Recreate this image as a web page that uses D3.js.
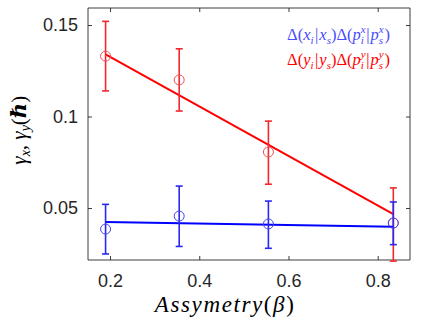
<!DOCTYPE html>
<html>
<head>
<meta charset="utf-8">
<script src="https://cdn.jsdelivr.net/npm/d3@7"></script>
<style>
  body { margin: 0; background: #fff; }
  svg { display: block; }
</style>
</head>
<body>
<div id="vis"></div>
<script>
// data
var asym = [0.19, 0.355, 0.555, 0.835]
var gammaX = [0.0385, 0.0456, 0.0413, 0.0418]
var gammaXLo = [0.0249, 0.029, 0.028, 0.030]
var gammaXHi = [0.052, 0.062, 0.0538, 0.0533]
var gammaY = [0.133, 0.120, 0.0806, 0.0418]
var gammaYLo = [0.114, 0.103, 0.063, 0.021]
var gammaYHi = [0.152, 0.137, 0.0975, 0.061]
// linear fits, value at first and last asymmetry
var fitX = [0.0424, 0.0398]
var fitY = [0.134, 0.0467]
var xTicks = [0.2, 0.4, 0.6, 0.8]
var yTicks = [0.05, 0.1, 0.15]

var width = 437, height = 326
var margin = {top: 8, right: 27, bottom: 66, left: 88}
var w = width - margin.left - margin.right,
    h = height - margin.top - margin.bottom

var x = d3.scaleLinear().domain([0.1506, 0.8724]).range([0, w])
var y = d3.scaleLinear().domain([0.0216, 0.1593]).range([h, 0])

var svg = d3.select("#vis").append("svg")
    .attr("width", width)
    .attr("height", height)
  .append("g")
    .attr("transform", "translate(" + margin.left + "," + margin.top + ")")

var axisColor = "#262626"
var tickFont = "'Liberation Sans', Arial, sans-serif"

// axes, MATLAB style: ticks inside, box on
var gx = svg.append("g").attr("transform", "translate(0," + h + ")")
    .call(d3.axisBottom(x).tickValues(xTicks).tickSize(-4).tickPadding(14).tickFormat(d3.format("")))
var gxt = svg.append("g")
    .call(d3.axisTop(x).tickValues(xTicks).tickSize(-4).tickFormat(""))
var gy = svg.append("g")
    .call(d3.axisLeft(y).tickValues(yTicks).tickSize(-4).tickPadding(10).tickFormat(d3.format("")))
var gyr = svg.append("g").attr("transform", "translate(" + w + ",0)")
    .call(d3.axisRight(y).tickValues(yTicks).tickSize(-4).tickFormat(""))

;[gx, gxt, gy, gyr].forEach(function(g) {
  g.selectAll("path, line").attr("stroke", axisColor).attr("stroke-width", 0.9)
  g.selectAll("text").attr("fill", axisColor)
    .style("font-family", tickFont).style("font-size", "18px")
})
gx.selectAll("path").attr("d", "M0,0H" + w)
gxt.selectAll("path").attr("d", "M0,0H" + w)
gy.selectAll("path").attr("d", "M0,0V" + h)
gyr.selectAll("path").attr("d", "M0,0V" + h)

var series = [
  {val: gammaY, lo: gammaYLo, hi: gammaYHi, fit: fitY, line: "#ff0000", bar: "#f0282d", dot: "#f0505a"},
  {val: gammaX, lo: gammaXLo, hi: gammaXHi, fit: fitX, line: "#0000ff", bar: "#2828f0", dot: "#4646f0"}
]

series.forEach(function(s) {
  var g = svg.append("g")
  // fit line
  g.append("line")
      .attr("x1", x(asym[0])).attr("x2", x(asym[asym.length - 1]))
      .attr("y1", y(s.fit[0])).attr("y2", y(s.fit[1]))
      .attr("stroke", s.line).attr("stroke-width", 2)

  asym.forEach(function(a, i) {
    var cx = x(a)
    g.append("line")
        .attr("x1", cx).attr("x2", cx)
        .attr("y1", y(s.lo[i])).attr("y2", y(s.hi[i]))
        .attr("stroke", s.bar).attr("stroke-width", 1.6)
    ;[s.lo[i], s.hi[i]].forEach(function(v) {
      g.append("line")
          .attr("x1", cx - 3.5).attr("x2", cx + 3.5)
          .attr("y1", y(v)).attr("y2", y(v))
          .attr("stroke", s.bar).attr("stroke-width", 1.6)
    })
    g.append("circle")
        .attr("cx", cx).attr("cy", y(s.val[i])).attr("r", 5)
        .attr("fill", "none").attr("stroke", s.dot).attr("stroke-width", 1)
  })
})

// legend texts (LaTeX-ish)
var mathFont = "'Liberation Serif', 'DejaVu Serif', serif"

function mathLine(g, parts, color) {
  var t = g.append("text")
      .attr("fill", color)
      .attr("text-anchor", "end")
      .style("font-family", mathFont)
      .style("font-size", "16.5px")
  parts.forEach(function(p) {
    var ts = t.append("tspan").text(p.t)
    if (p.it) ts.style("font-style", "italic")
    if (p.sz) ts.style("font-size", p.sz + "px")
    if (p.dy) ts.attr("dy", p.dy)
    if (p.dx) ts.attr("dx", p.dx)
  })
  return t
}

function deltaParts(a) {
  // Δ(a_i|a_s)Δ(p_i^a|p_s^a)
  return [
    {t: "Δ("},
    {t: a, it: true},
    {t: "i", it: true, sz: 11, dy: 4},
    {t: "|", dy: -4, dx: 1.5},
    {t: a, it: true, dx: 1},
    {t: "s", it: true, sz: 11, dy: 4},
    {t: ")Δ(", dy: -4},
    {t: "p", it: true},
    {t: a, it: true, sz: 11, dy: -7},
    {t: "i", it: true, sz: 11, dy: 11, dx: -5},
    {t: "|", dy: -4, dx: 2.5},
    {t: "p", it: true, dx: 1},
    {t: a, it: true, sz: 11, dy: -7},
    {t: "s", it: true, sz: 11, dy: 11, dx: -5},
    {t: ")", dy: -4, dx: 1.5}
  ]
}

var leg = svg.append("g")
mathLine(leg, deltaParts("x"), "#4a4aff")
    .attr("x", 302).attr("y", 32)
mathLine(leg, deltaParts("y"), "#ff0000")
    .attr("x", 302).attr("y", 57)

// axis labels
var xl = svg.append("text")
    .attr("x", x(0.458)).attr("y", h + 52)
    .attr("text-anchor", "middle")
    .attr("fill", "#000")
    .style("font-family", mathFont)
    .style("font-size", "23px")
    .style("letter-spacing", "1.6px")
xl.append("tspan").text("Assymetry").style("font-style", "italic")
xl.append("tspan").text("(")
xl.append("tspan").text("β").style("font-style", "italic")
xl.append("tspan").text(")")

var yl = svg.append("text")
    .attr("transform", "translate(" + (-62) + "," + y(0.0925) + ") rotate(-90)")
    .attr("text-anchor", "middle")
    .attr("fill", "#000")
    .style("font-family", mathFont)
    .style("font-size", "21px")
yl.append("tspan").text("γ").style("font-style", "italic")
yl.append("tspan").text("x").style("font-style", "italic").style("font-size", "14px").attr("dy", 4)
yl.append("tspan").text(", ").attr("dy", -4)
yl.append("tspan").text("γ").style("font-style", "italic")
yl.append("tspan").text("y").style("font-style", "italic").style("font-size", "14px").attr("dy", 4)
yl.append("tspan").text("(").attr("dy", -4)
yl.append("tspan").text("ℏ").style("font-weight", "bold").style("font-style", "italic")
yl.append("tspan").text(")")
</script>
</body>
</html>
